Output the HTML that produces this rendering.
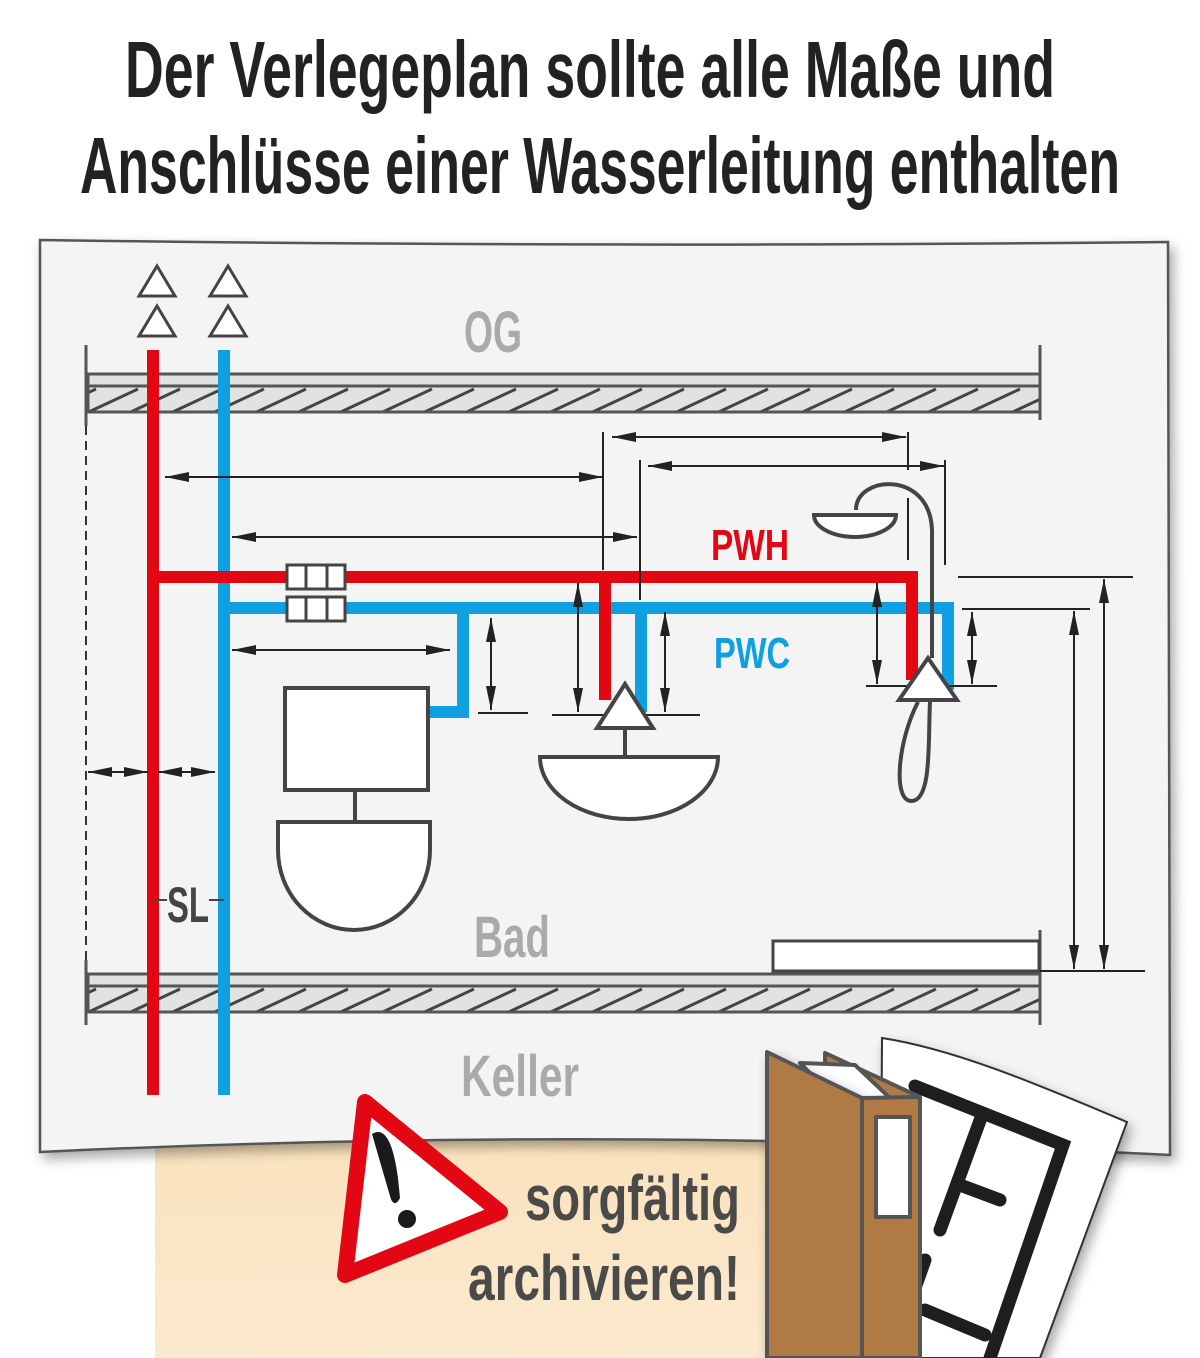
<!DOCTYPE html>
<html><head><meta charset="utf-8"><style>
html,body{margin:0;padding:0;background:#fff}
svg{display:block}
text{font-family:"Liberation Sans Narrow","Liberation Sans",sans-serif}
</style></head><body>
<svg width="1200" height="1358" viewBox="0 0 1200 1358" xmlns="http://www.w3.org/2000/svg">
<defs>
<marker id="a" viewBox="0 0 24 12" refX="24" refY="6" markerWidth="24" markerHeight="12" markerUnits="userSpaceOnUse" orient="auto-start-reverse"><path d="M0,1 L24,6 L0,11 z" fill="#222"/></marker>
<pattern id="h" width="42" height="26" patternUnits="userSpaceOnUse" x="88" y="386"><path d="M-10,31 L50,3" stroke="#444" stroke-width="3"/><path d="M-52,31 L8,3" stroke="#444" stroke-width="3"/><path d="M32,31 L92,3" stroke="#444" stroke-width="3"/></pattern>
<pattern id="h2" width="42" height="26" patternUnits="userSpaceOnUse" x="88" y="986"><path d="M-10,31 L50,3" stroke="#444" stroke-width="3"/><path d="M-52,31 L8,3" stroke="#444" stroke-width="3"/><path d="M32,31 L92,3" stroke="#444" stroke-width="3"/></pattern>
<linearGradient id="g" x1="0" y1="0" x2="0" y2="1"><stop offset="0" stop-color="#fae2bb"/><stop offset="1" stop-color="#fbe9cf"/></linearGradient>
<filter id="s" x="-10%" y="-10%" width="120%" height="120%"><feDropShadow dx="4" dy="6" stdDeviation="6" flood-color="#000" flood-opacity="0.35"/></filter>
</defs>
<rect width="1200" height="1358" fill="#fff"/>
<text x="590" y="97" font-size="80" font-weight="bold" text-anchor="middle" fill="#222" textLength="930" lengthAdjust="spacingAndGlyphs">Der Verlegeplan sollte alle Maße und</text>
<text x="600" y="193" font-size="80" font-weight="bold" text-anchor="middle" fill="#222" textLength="1040" lengthAdjust="spacingAndGlyphs">Anschlüsse einer Wasserleitung enthalten</text>
<rect x="155" y="1120" width="640" height="238" fill="url(#g)"/>
<path d="M40,240 Q600,248 1168,242 L1170,1155 Q600,1125 40,1152 Z" fill="#f4f4f4" stroke="#555" stroke-width="2.5" filter="url(#s)"/>
<g stroke="#555" stroke-width="3">
<rect x="88" y="374" width="952" height="12" fill="#e2e2e2"/>
<rect x="88" y="386" width="952" height="26" fill="#e2e2e2"/>
<rect x="88" y="386" width="952" height="26" fill="url(#h)"/>
<rect x="88" y="974" width="952" height="12" fill="#e2e2e2"/>
<rect x="88" y="986" width="952" height="26" fill="#e2e2e2"/>
<rect x="88" y="986" width="952" height="26" fill="url(#h2)"/>
<line x1="86" y1="345" x2="86" y2="426"/><line x1="1040" y1="345" x2="1040" y2="420"/>
<line x1="86" y1="960" x2="86" y2="1025"/><line x1="1040" y1="930" x2="1040" y2="1025"/>
</g>
<line x1="86" y1="426" x2="86" y2="962" stroke="#333" stroke-width="2" stroke-dasharray="9,6"/>
<text x="493" y="352" font-size="58" font-weight="bold" fill="#aaa" text-anchor="middle" textLength="58" lengthAdjust="spacingAndGlyphs">OG</text>
<text x="512" y="957" font-size="58" font-weight="bold" fill="#aaa" text-anchor="middle" textLength="76" lengthAdjust="spacingAndGlyphs">Bad</text>
<text x="520" y="1096" font-size="58" font-weight="bold" fill="#aaa" text-anchor="middle" textLength="118" lengthAdjust="spacingAndGlyphs">Keller</text>
<g fill="#fff" stroke="#444" stroke-width="3">
<path d="M157,266 L139,296 L175,296Z"/><path d="M157,306 L139,336 L175,336Z"/>
<path d="M228,266 L210,296 L246,296Z"/><path d="M228,306 L210,336 L246,336Z"/>
</g>
<rect x="773" y="941" width="266" height="30" fill="#fff" stroke="#444" stroke-width="3"/>
<g fill="none" stroke-width="12">
<path d="M224,350 V1095 M224,608 H948 V690 M463,608 V712 H430 M641,608 V712" stroke="#0ea0e0"/>
<path d="M153,350 V1095 M153,577 H912 V680 M605,577 V700" stroke="#e30613"/>
</g>
<g fill="#fff" stroke="#444" stroke-width="3">
<rect x="287" y="565" width="58" height="24"/><rect x="287" y="597" width="58" height="24"/>
</g>
<g stroke="#444" stroke-width="3"><line x1="306" y1="565" x2="306" y2="589"/><line x1="327" y1="565" x2="327" y2="589"/><line x1="306" y1="597" x2="306" y2="621"/><line x1="327" y1="597" x2="327" y2="621"/></g>
<g stroke="#222" stroke-width="2" fill="none">
<line x1="603" y1="432" x2="603" y2="570"/><line x1="640" y1="460" x2="640" y2="600"/>
<line x1="908" y1="432" x2="908" y2="470"/><line x1="908" y1="498" x2="908" y2="560"/><line x1="945" y1="460" x2="945" y2="565"/>
<line x1="478" y1="713" x2="528" y2="713"/><line x1="552" y1="715" x2="700" y2="715"/>
<line x1="866" y1="686" x2="997" y2="686"/>
<line x1="958" y1="577" x2="1133" y2="577"/><line x1="962" y1="609" x2="1090" y2="609"/><line x1="1040" y1="971" x2="1145" y2="971"/>
<line x1="165" y1="477" x2="603" y2="477" marker-start="url(#a)" marker-end="url(#a)"/>
<line x1="232" y1="537" x2="637" y2="537" marker-start="url(#a)" marker-end="url(#a)"/>
<line x1="612" y1="437" x2="906" y2="437" marker-start="url(#a)" marker-end="url(#a)"/>
<line x1="648" y1="466" x2="944" y2="466" marker-start="url(#a)" marker-end="url(#a)"/>
<line x1="232" y1="650" x2="450" y2="650" marker-start="url(#a)" marker-end="url(#a)"/>
<line x1="491" y1="618" x2="491" y2="710" marker-start="url(#a)" marker-end="url(#a)"/>
<line x1="578" y1="583" x2="578" y2="712" marker-start="url(#a)" marker-end="url(#a)"/>
<line x1="665" y1="612" x2="665" y2="712" marker-start="url(#a)" marker-end="url(#a)"/>
<line x1="877" y1="583" x2="877" y2="684" marker-start="url(#a)" marker-end="url(#a)"/>
<line x1="972" y1="612" x2="972" y2="684" marker-start="url(#a)" marker-end="url(#a)"/>
<line x1="1074" y1="611" x2="1074" y2="969" marker-start="url(#a)" marker-end="url(#a)"/>
<line x1="1104" y1="579" x2="1104" y2="969" marker-start="url(#a)" marker-end="url(#a)"/>
<line x1="88" y1="772" x2="148" y2="772" marker-start="url(#a)" marker-end="url(#a)"/>
<line x1="158" y1="772" x2="215" y2="772" marker-start="url(#a)" marker-end="url(#a)"/>
</g>
<rect x="165" y="870" width="46" height="56" fill="#f4f4f4"/>
<g stroke="#444" stroke-width="2"><line x1="153" y1="900" x2="167" y2="900"/><line x1="209" y1="900" x2="224" y2="900"/></g>
<text x="188" y="922" font-size="50" font-weight="bold" fill="#444" text-anchor="middle" textLength="42" lengthAdjust="spacingAndGlyphs">SL</text>
<text x="750" y="560" font-size="44" font-weight="bold" fill="#e30613" text-anchor="middle" textLength="78" lengthAdjust="spacingAndGlyphs">PWH</text>
<text x="752" y="668" font-size="44" font-weight="bold" fill="#0ea0e0" text-anchor="middle" textLength="76" lengthAdjust="spacingAndGlyphs">PWC</text>
<g fill="#fff" stroke="#444" stroke-width="4">
<rect x="285" y="688" width="143" height="102"/>
<line x1="355" y1="790" x2="355" y2="822"/>
<path d="M278,822 H430 V850 A76,80 0 0 1 278,850 Z"/>
<line x1="625" y1="725" x2="625" y2="757"/>
<path d="M540,757 H718 A89,62 0 0 1 540,757 Z"/>
<path d="M625,684 L597,728 L653,728 Z"/>
<path d="M856,510 C856,475 930,470 932,530 L932,658" fill="none"/>
<path d="M814,515 H896 A41,22 0 0 1 814,515 Z"/>
<path d="M930,702 C928,740 932,800 912,801 C892,802 898,740 918,702" fill="none"/>
<path d="M928,658 L899,700 L957,700 Z"/>
</g>
<path d="M365,1102 L500,1212 L345,1275 Z" fill="#fff" stroke="#e30613" stroke-width="16" stroke-linejoin="round"/>
<path d="M372,1134 C382,1128 392,1134 398,1178 L400,1198 C396,1206 392,1204 390,1196 Z" fill="#1a1a1a"/>
<circle cx="407" cy="1219" r="9" fill="#1a1a1a"/>
<text x="740" y="1220" font-size="64" font-weight="bold" fill="#4a4a4a" text-anchor="end" textLength="215" lengthAdjust="spacingAndGlyphs">sorgfältig</text>
<text x="740" y="1300" font-size="64" font-weight="bold" fill="#4a4a4a" text-anchor="end" textLength="272" lengthAdjust="spacingAndGlyphs">archivieren!</text>
<path d="M882,1038 C960,1050 1050,1090 1127,1122 L1040,1358 L880,1358 Z" fill="#fff" stroke="#333" stroke-width="2" filter="url(#s)"/>
<g stroke="#1e1e1e" stroke-width="13" stroke-linecap="round" fill="none">
<path d="M915,1086 L1063,1145 L990,1358"/>
<path d="M982,1115 L940,1230"/><path d="M960,1185 L1000,1200"/>
<path d="M925,1260 L900,1330"/><path d="M925,1310 L985,1335"/>
</g>
<g stroke="#555" stroke-width="4" stroke-linejoin="round">
<path d="M825,1053 L920,1097 L920,1358 L825,1358 Z" fill="#b07a45"/>
<path d="M800,1063 L855,1065 L890,1098 L835,1098 Z" fill="#fff"/>
<path d="M767,1052 L862,1098 L862,1358 L767,1358 Z" fill="#b07a45" filter="url(#s)"/>
<path d="M862,1098 L920,1097 L920,1358 L862,1358 Z" fill="#b07a45"/>
<rect x="876" y="1117" width="34" height="100" fill="#fff"/>
</g>
</svg>
</body></html>
